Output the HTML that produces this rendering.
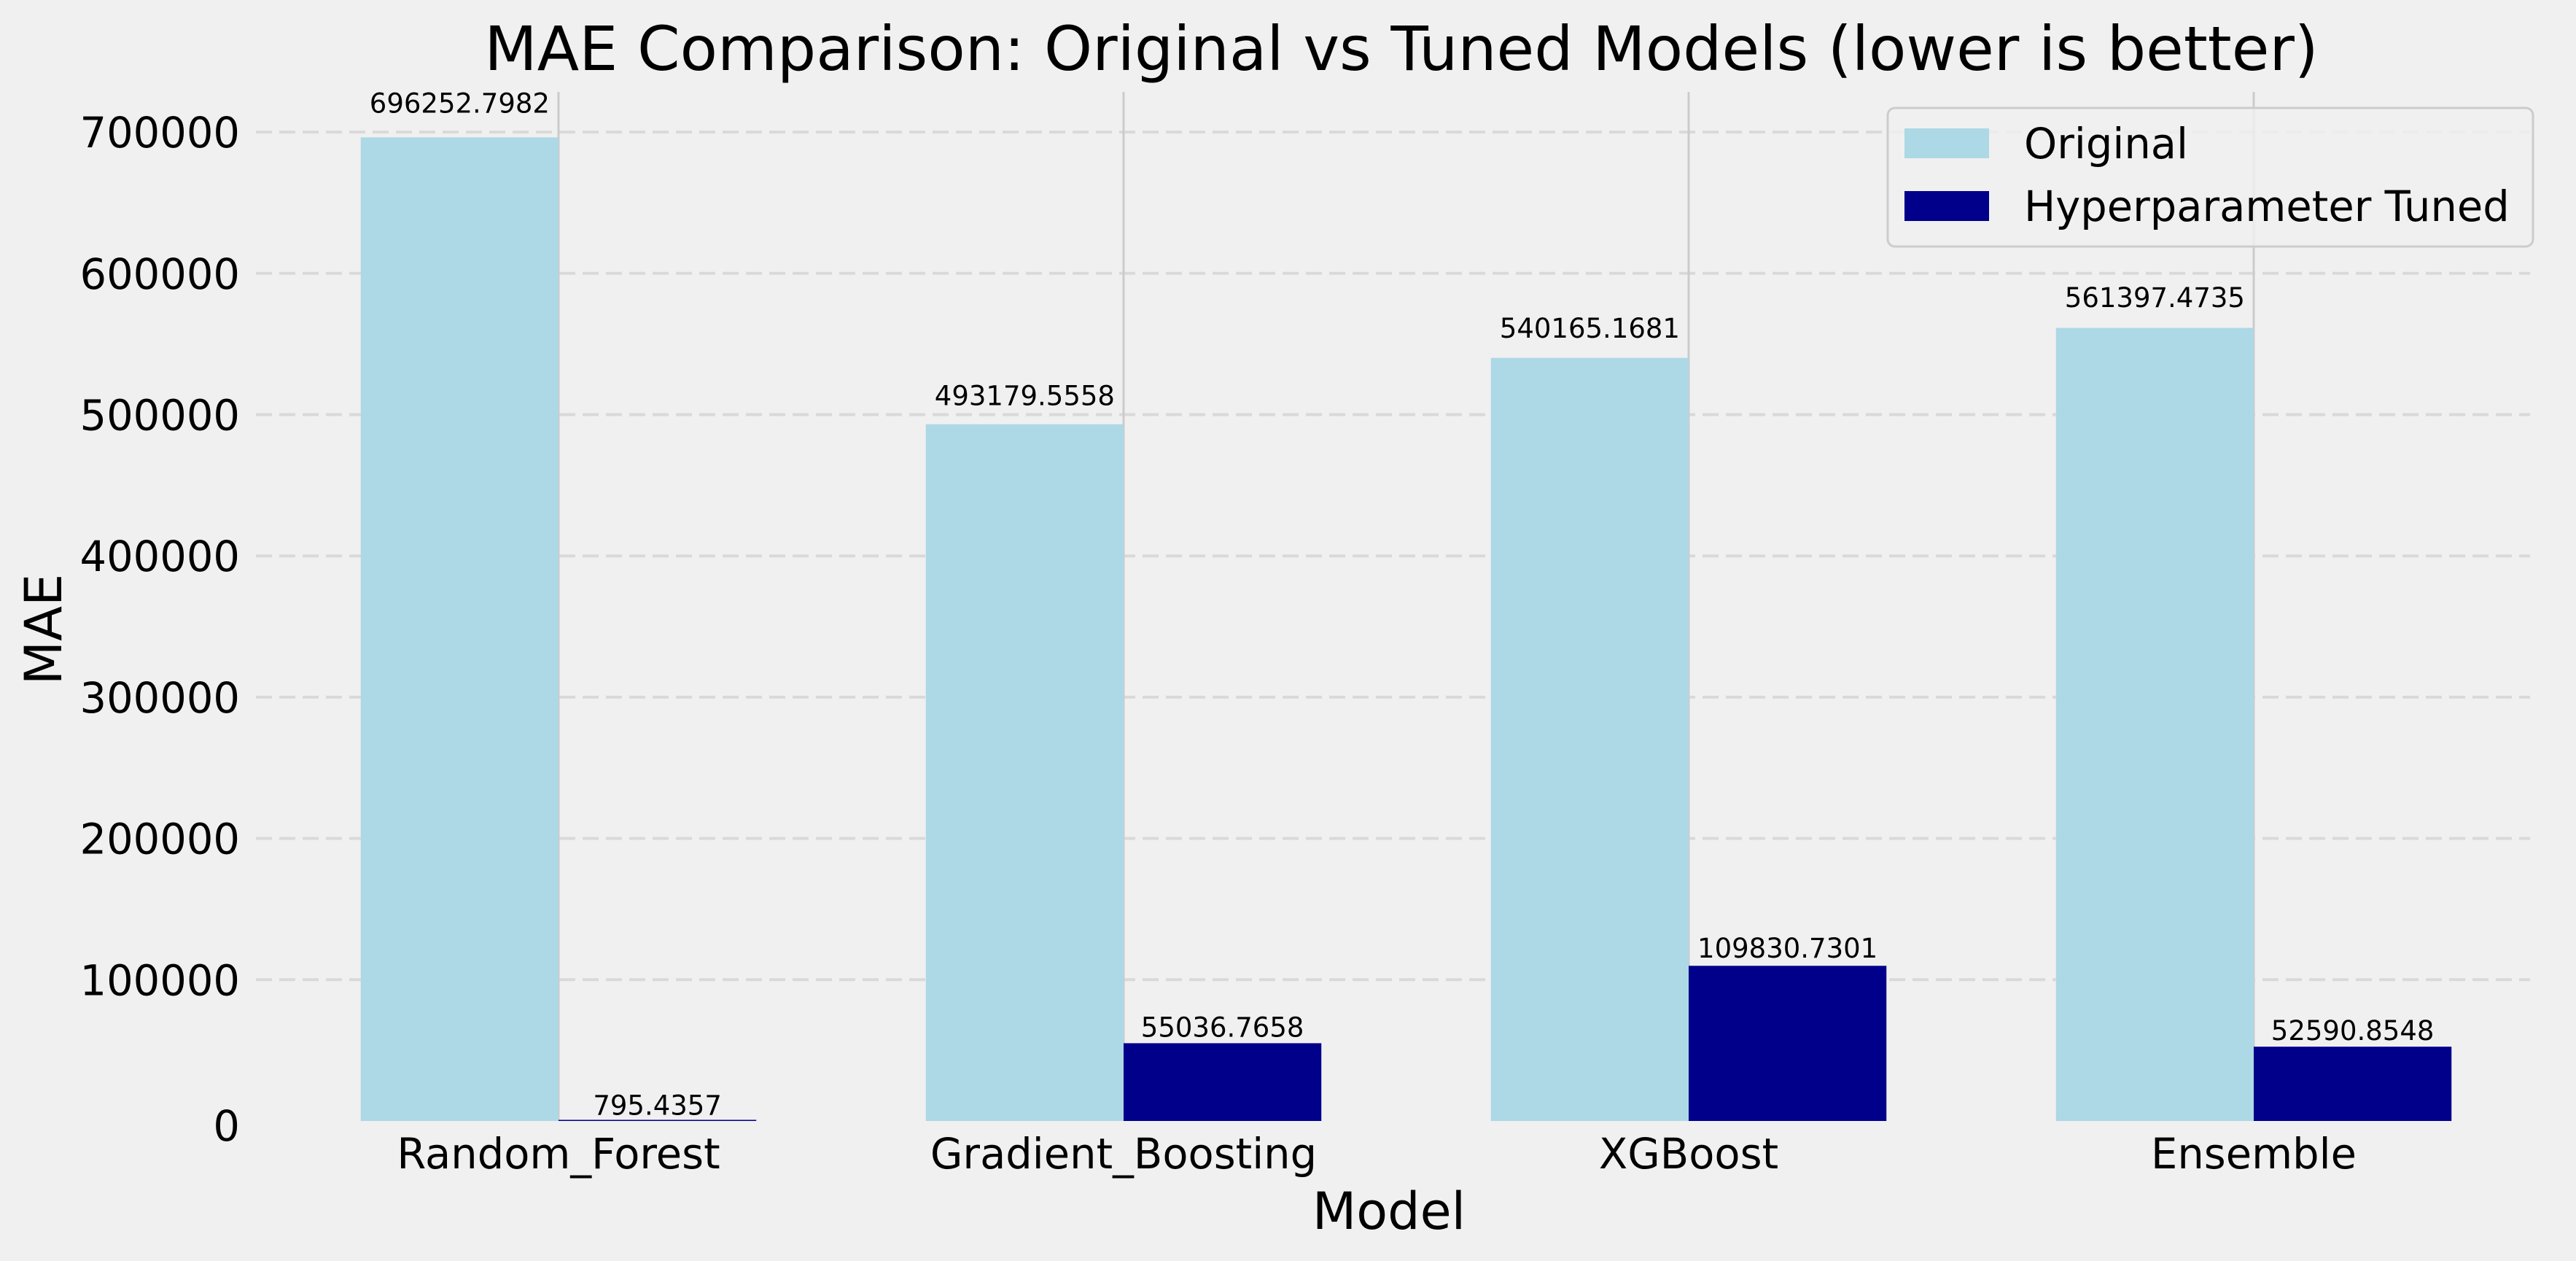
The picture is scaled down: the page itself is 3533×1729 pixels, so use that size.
<!DOCTYPE html>
<html><head><meta charset="utf-8"><style>
html,body{margin:0;padding:0;background:#f0f0f0;}
svg{display:block;font-family:"DejaVu Sans","Liberation Sans",sans-serif;}
</style></head><body>
<svg id="chart" width="3533" height="1729" viewBox="0 0 3533 1729" xmlns="http://www.w3.org/2000/svg">
<rect width="3533" height="1729" fill="#f0f0f0"/>
<g id="grid"></g><g id="bars"></g><g id="labels"></g>
<text x="1922" y="96" font-size="84" text-anchor="middle" fill="#000">MAE Comparison: Original vs Tuned Models (lower is better)</text>
<text transform="translate(84,863) rotate(-90)" font-size="70" text-anchor="middle">MAE</text>
<text x="1905" y="1685" font-size="70" text-anchor="middle">Model</text>
<g>
<rect x="2589" y="148" width="885" height="190" rx="10" fill="#f0f0f0" fill-opacity="0.8" stroke="#cccccc" stroke-width="3"/>
<rect x="2612" y="176" width="116" height="41" fill="#add8e6"/>
<text x="2776" y="217" font-size="57.5">Original</text>
<rect x="2612" y="262" width="116" height="41" fill="#00008b"/>
<text x="2776" y="303" font-size="57.5">Hyperparameter Tuned</text>
</g>
</svg>
<script>
const categories = ["Random_Forest","Gradient_Boosting","XGBoost","Ensemble"];
const originalValues = [696252.7982, 493179.5558, 540165.1681, 561397.4735];
const tunedValues = [795.4357, 55036.7658, 109830.7301, 52590.8548];
const yTicks = [0,100000,200000,300000,400000,500000,600000,700000];

const NS="http://www.w3.org/2000/svg";
const axL=351, axR=3470, axTop=126, y0=1537, pxPer=193.7/100000;
const xc0=766, unit=775, barW=0.35;
function xS(i){return xc0+i*unit;}
function yS(v){return y0-v*pxPer;}
function mk(tag,attrs,parent,txt){const e=document.createElementNS(NS,tag);for(const k in attrs)e.setAttribute(k,attrs[k]);if(txt!==undefined)e.textContent=txt;parent.appendChild(e);return e;}
const grid=document.getElementById('grid'),bars=document.getElementById('bars'),labels=document.getElementById('labels');

yTicks.forEach(t=>{
  if(t>0){
    const l=mk('line',{x1:axL,x2:axR,y1:yS(t),y2:yS(t),stroke:'#d9d9d9','stroke-width':4,'stroke-dasharray':'22 10'},grid);
    
    
  }
  const tx=mk('text',{x:axL-22,y:yS(t)+21+(t===0?6:0),'font-size':57.5,'text-anchor':'end'},labels,String(t));
  
  
});
categories.forEach((c,i)=>{
  const l=mk('line',{x1:xS(i),x2:xS(i),y1:axTop,y2:y0,stroke:'#cbcbcb','stroke-width':3},grid);
  
  
  const tx=mk('text',{x:xS(i),y:1602,'font-size':57.5,'text-anchor':'middle'},labels,c);
  
  
});
function drawSeries(vals,off,color,name){
  vals.forEach((v,i)=>{
    const left=xS(i)+(off-barW/2)*unit, w=barW*unit;
    const r=mk('rect',{x:left,y:yS(v),width:w,height:y0-yS(v),fill:color},bars);
    
    
    const gap=(y0-yS(v))*0.02+7;
    const t=mk('text',{x:left+w/2,y:yS(v)-gap,'font-size':37,'text-anchor':'middle'},labels,v.toFixed(4));
    
    
  });
}
drawSeries(originalValues,-barW/2,'#add8e6','original');
drawSeries(tunedValues,barW/2,'#00008b','tuned');
</script>
</body></html>
